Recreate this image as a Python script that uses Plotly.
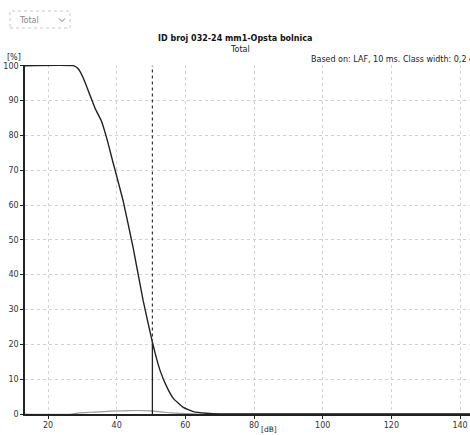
import plotly.graph_objects as go

# cumulative distribution [%] vs level [dB]
cum_db = [13.3, 27.4, 28.8, 30.3, 32.2, 33.7, 35.6, 37.1, 38.6, 41.9, 44.8, 47.7, 50.5,
          52.6, 54.6, 56.5, 59.4, 62.3, 66.2, 70.0, 142.9]
cum_pct = [100, 100, 99.1, 96.4, 91.6, 87.8, 84.0, 79.2, 73.5, 61.1, 47.7, 32.6, 20.2,
           12.6, 7.8, 4.5, 1.9, 0.7, 0.2, 0.0, 0.0]

# class distribution [%]
dist_db = [13.3, 27.0, 29.0, 32.0, 35.0, 38.0, 42.0, 46.0, 50.0, 53.0, 56.0, 60.0, 64.0, 142.9]
dist_pct = [0, 0, 0.3, 0.5, 0.6, 0.8, 0.9, 1.0, 0.9, 0.6, 0.3, 0.1, 0, 0]

cursor_db = 50.4
cursor_pct = 20.5

x_ticks = [20, 40, 60, 80, 100, 120, 140]
y_ticks = [0, 10, 20, 30, 40, 50, 60, 70, 80, 90, 100]

title = "ID broj 032-24 mm1-Opsta bolnica"
subtitle = "Total"
note = "Based on: LAF, 10 ms. Class width: 0,2 dB"
x_unit = "[dB]"
y_unit = "[%]"
selector = "Total"

fig = go.Figure()
fig.add_trace(go.Scatter(x=dist_db, y=dist_pct, mode="lines", line_shape="spline",
                         line=dict(color="#9a9a9a", width=1.2), hoverinfo="skip"))
fig.add_trace(go.Scatter(x=cum_db, y=cum_pct, mode="lines", line_shape="spline",
                         line=dict(color="#222222", width=1.4, smoothing=0.4), hoverinfo="skip"))
# cursor line: dotted above curve, solid below
fig.add_trace(go.Scatter(x=[cursor_db, cursor_db], y=[cursor_pct, 100], mode="lines",
                         line=dict(color="#333333", width=1.2, dash="dot"), hoverinfo="skip"))
fig.add_trace(go.Scatter(x=[cursor_db, cursor_db], y=[0, cursor_pct], mode="lines",
                         line=dict(color="#222222", width=1.3), hoverinfo="skip"))

W, H = 470, 435
l, r, t, b = 25, 0, 65, 21
pw, ph = W - l - r, H - t - b
def px(xp): return (xp - l) / pw
def py(yp): return (H - b - yp) / ph

font_family = "DejaVu Sans, Verdana, sans-serif"
axis_common = dict(showgrid=True, gridcolor="#d2d2d2", griddash="dot", gridwidth=1,
                   showline=True, linecolor="#222222", linewidth=1.5,
                   ticks="outside", ticklen=3, tickcolor="#222222",
                   zeroline=False, tickfont=dict(size=8, color="#333333"), automargin=False)
fig.update_layout(
    width=W, height=H,
    margin=dict(l=l, r=r, t=t, b=b, autoexpand=False),
    paper_bgcolor="white", plot_bgcolor="white",
    showlegend=False,
    font=dict(family=font_family, size=8, color="#333333"),
    xaxis=dict(range=[13.3, 142.9], tickvals=x_ticks, ticktext=[str(v) for v in x_ticks],
               **axis_common),
    yaxis=dict(range=[0, 100.2], tickvals=y_ticks, ticktext=[str(v) for v in y_ticks],
               **axis_common),
    annotations=[
        dict(text="<b>" + title + "</b>", x=px(235), y=py(39), yanchor="middle",
             font=dict(size=8, color="#111111")),
        dict(text=subtitle, x=px(240), y=py(49), yanchor="middle",
             font=dict(size=8, color="#222222")),
        dict(text=y_unit, x=px(23), y=py(57), xanchor="right", yanchor="middle",
             font=dict(size=8, color="#222222")),
        dict(text=x_unit, x=px(269), y=py(430), yanchor="middle",
             font=dict(size=7.5, color="#222222")),
        dict(text=note, x=px(309), y=py(59), xanchor="left", yanchor="middle",
             font=dict(size=8, color="#222222")),
        dict(text=selector, x=px(17), y=py(20), xanchor="left", yanchor="middle",
             font=dict(size=8, color="#888888")),
    ],
)
for a in fig.layout.annotations:
    a.update(xref="paper", yref="paper", showarrow=False)

fig.add_shape(type="rect", xref="paper", yref="paper",
              x0=px(10), x1=px(70), y0=py(28), y1=py(11),
              line=dict(color="#c8c8c8", width=1, dash="dot"), fillcolor="rgba(0,0,0,0)")
# dropdown chevron
fig.add_shape(type="path", xref="paper", yref="paper",
              path=f"M {px(59)} {py(18.5)} L {px(62)} {py(21.5)} L {px(65)} {py(18.5)}",
              line=dict(color="#777777", width=1))

fig.write_html("out.html", config={"displayModeBar": False},
               post_script="document.body.style.margin='0';document.body.style.overflow='hidden';")
